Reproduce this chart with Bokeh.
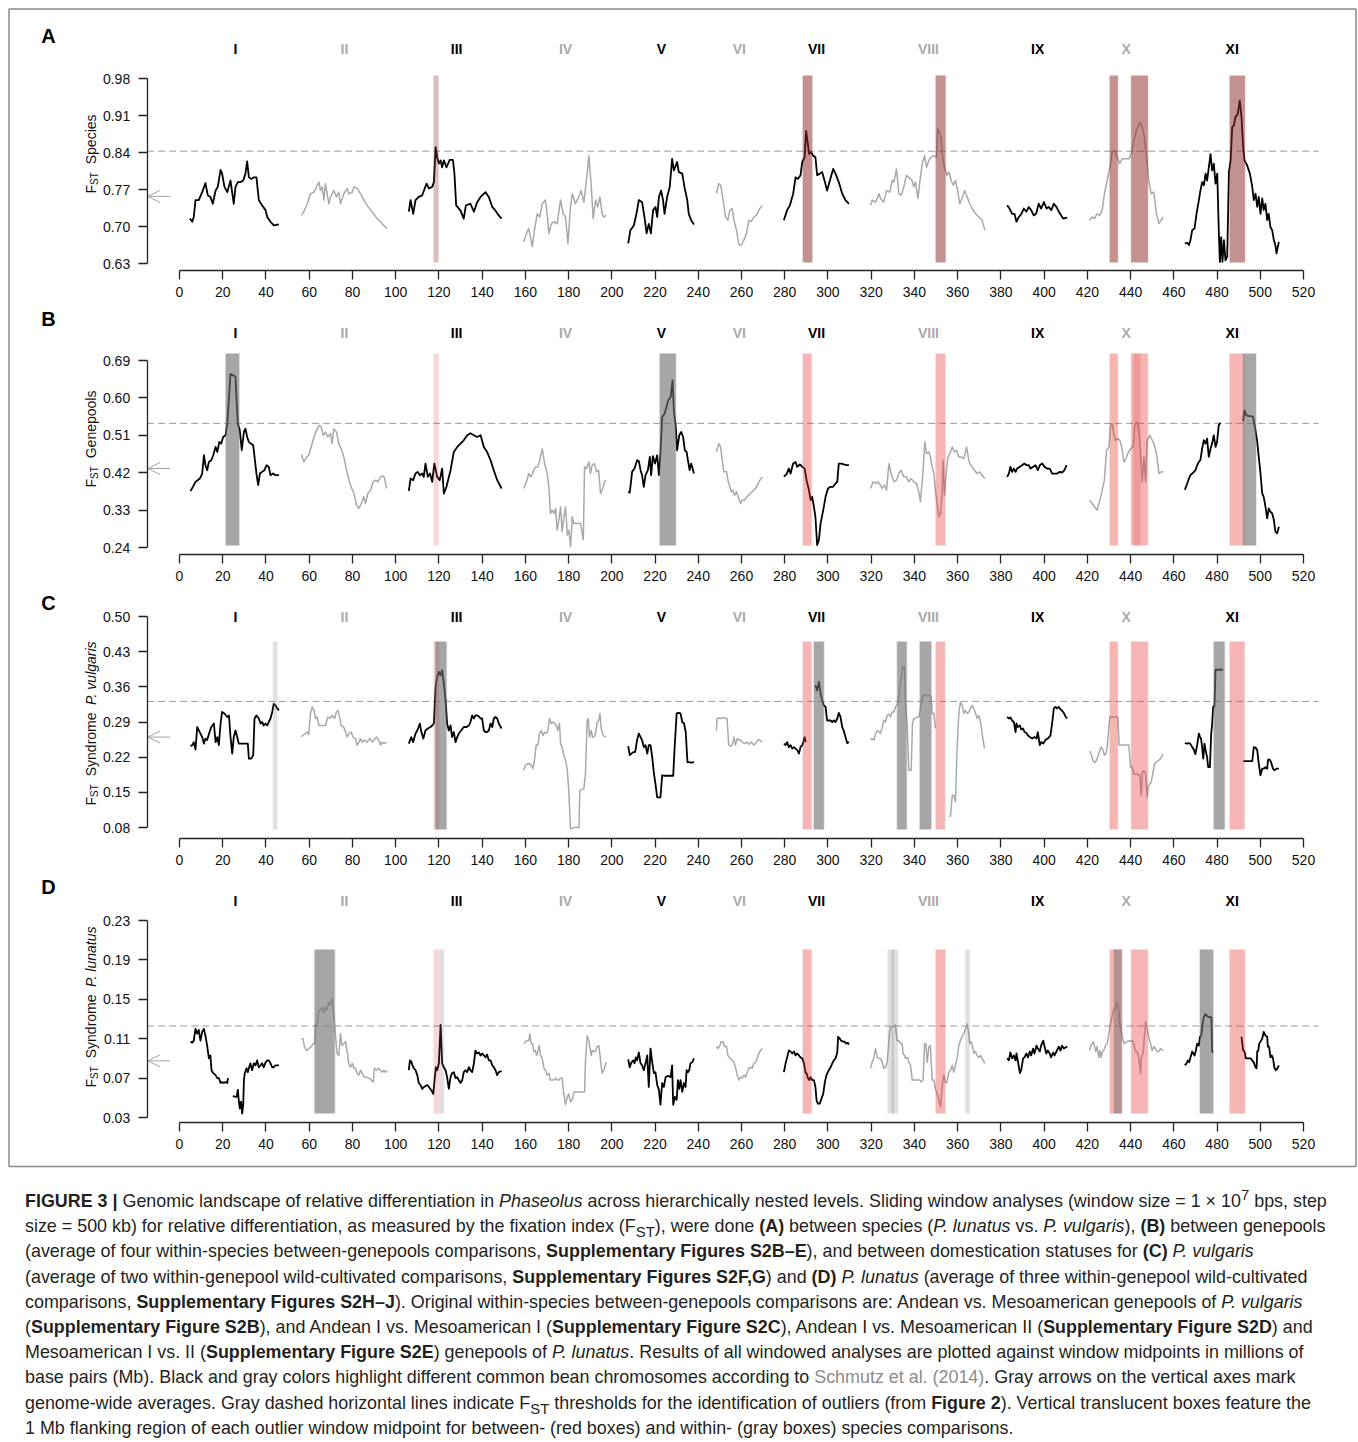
import math
from bokeh.plotting import figure
from bokeh.models import (Range1d, LinearAxis, FixedTicker, PrintfTickFormatter,
                          Arrow, OpenHead, Div)
from bokeh.layouts import column
from bokeh.core.properties import value
from bokeh.embed import file_html
from bokeh.resources import INLINE

NaN = float("nan")

# ---------------------------------------------------------------- data
CHROMS = ["I", "II", "III", "IV", "V", "VI", "VII", "VIII", "IX", "X", "XI"]
CHROM_MID = [25.9, 76.3, 128.2, 178.6, 223.0, 259.0, 294.7, 346.5, 397.0, 438.0, 487.0]
X_TICKS = list(range(0, 521, 20))

YTICKS_A = [0.63, 0.70, 0.77, 0.84, 0.91, 0.98]
YTICKS_B = [0.24, 0.33, 0.42, 0.51, 0.60, 0.69]
YTICKS_C = [0.08, 0.15, 0.22, 0.29, 0.36, 0.43, 0.50]
YTICKS_D = [0.03, 0.07, 0.11, 0.15, 0.19, 0.23]

THRESHOLD = {"A": 0.8425, "B": 0.5387, "C": 0.331, "D": 0.1229}
GENOME_MEAN = {"A": 0.757, "B": 0.430, "C": 0.260, "D": 0.0875}

# ---- Panel A: between species
A_I_mb = [4.8,5.9,6.6,7.4,8.9,10.5,12.0,13.1,14.3,15.4,16.7,17.7,19.0,19.7,20.8,22.1,23.6,25.1,25.9,27.0,28.2,29.5,30.5,31.3,32.1,33.2,34.4,35.6,36.7,38.2,39.8,40.6,42.1,43.6,46.0]
A_I_fst = [0.715,0.709,0.718,0.750,0.750,0.765,0.782,0.759,0.756,0.743,0.768,0.775,0.807,0.800,0.775,0.765,0.787,0.743,0.775,0.784,0.784,0.787,0.800,0.823,0.793,0.790,0.793,0.793,0.750,0.740,0.731,0.718,0.709,0.702,0.704]
A_II_mb = [56.4,57.5,59.1,60.6,62.2,63.4,64.5,65.2,66.0,66.8,67.5,68.3,69.1,69.9,71.4,72.6,73.7,74.5,76.0,77.6,78.3,79.9,80.7,82.2,83.7,85.3,86.8,88.4,89.9,91.4,93.0,94.5,96.1]
A_II_fst = [0.721,0.728,0.743,0.762,0.765,0.775,0.784,0.768,0.775,0.750,0.781,0.762,0.743,0.756,0.768,0.756,0.765,0.743,0.762,0.772,0.762,0.765,0.775,0.772,0.762,0.750,0.740,0.731,0.724,0.715,0.709,0.702,0.696]
A_III_mb = [106.1,106.9,108.1,109.2,110.7,112.3,113.1,114.3,115.4,116.9,117.7,118.5,119.2,120.0,120.8,121.5,122.3,123.5,125.0,126.5,127.2,128.0,130.0,131.5,132.5,134.6,136.2,137.7,139.3,141.6,143.1,144.7,146.2,147.7,149.0]
A_III_fst = [0.728,0.750,0.724,0.750,0.756,0.759,0.768,0.781,0.772,0.775,0.784,0.850,0.831,0.819,0.825,0.812,0.825,0.812,0.826,0.826,0.800,0.740,0.730,0.715,0.740,0.743,0.728,0.746,0.756,0.765,0.756,0.737,0.730,0.721,0.715]
A_IV_mb = [159.3,160.5,161.6,163.2,164.2,165.5,166.7,167.8,169.3,170.1,170.9,172.0,173.2,174.7,176.3,177.5,178.6,179.7,180.9,181.7,183.2,184.7,185.8,187.1,188.6,189.4,190.5,191.4,192.5,193.5,194.5,195.5,196.3,197.4]
A_IV_fst = [0.671,0.687,0.696,0.662,0.693,0.724,0.718,0.743,0.750,0.724,0.687,0.705,0.709,0.705,0.750,0.724,0.718,0.668,0.737,0.762,0.743,0.756,0.768,0.746,0.800,0.834,0.775,0.715,0.750,0.737,0.756,0.724,0.718,0.721]
A_V_mb = [207.6,208.6,210.2,211.4,212.5,214.0,215.1,216.1,217.1,218.1,219.1,220.2,221.0,221.8,222.8,223.7,224.4,225.6,226.8,227.9,228.7,230.2,231.0,232.6,233.6,234.9,235.6,236.7,238.0]
A_V_fst = [0.668,0.693,0.702,0.724,0.750,0.746,0.718,0.687,0.705,0.687,0.731,0.737,0.718,0.756,0.768,0.750,0.724,0.756,0.775,0.828,0.806,0.822,0.803,0.800,0.775,0.750,0.724,0.712,0.704]
A_VI_mb = [248.4,249.5,250.4,251.5,252.6,253.7,254.6,255.7,256.5,257.7,258.8,259.9,261.1,262.3,263.4,264.5,265.7,266.9,268.0,269.6]
A_VI_fst = [0.763,0.781,0.778,0.750,0.718,0.712,0.731,0.734,0.712,0.693,0.665,0.665,0.674,0.687,0.712,0.709,0.718,0.721,0.731,0.740]
A_VII_mb = [279.6,281.1,282.4,283.9,285.0,286.1,287.3,288.1,289.2,289.9,290.7,291.3,292.2,293.2,294.2,295.0,296.2,297.3,298.4,299.6,300.9,302.4,303.5,305.0,306.6,308.1,309.7]
A_VII_fst = [0.712,0.731,0.740,0.762,0.793,0.790,0.797,0.822,0.831,0.881,0.856,0.837,0.841,0.834,0.831,0.797,0.800,0.803,0.787,0.768,0.787,0.809,0.800,0.784,0.762,0.750,0.743]
A_VIII_mb = [319.7,320.5,322.0,323.6,324.3,325.8,327.1,328.6,329.7,330.5,331.7,332.8,333.9,335.1,336.3,337.4,338.9,339.7,340.5,341.6,342.5,343.6,344.7,345.6,346.7,347.7,349.0,350.2,350.8,352.1,353.1,353.9,355.1,356.0,357.0,358.0,359.0,360.1,361.0,362.0,363.2,364.4,365.6,366.7,368.3,369.8,371.3,372.6]
A_VIII_fst = [0.740,0.750,0.746,0.762,0.753,0.746,0.768,0.765,0.787,0.784,0.809,0.762,0.759,0.775,0.797,0.793,0.787,0.775,0.784,0.753,0.784,0.819,0.834,0.812,0.825,0.831,0.834,0.831,0.885,0.872,0.831,0.812,0.797,0.803,0.787,0.778,0.787,0.765,0.743,0.753,0.768,0.756,0.743,0.734,0.724,0.718,0.712,0.693]
A_IX_mb = [382.9,384.0,385.2,386.3,387.2,388.3,389.5,390.6,391.8,392.9,394.0,395.2,396.3,397.5,398.6,399.9,401.1,402.2,403.3,404.5,405.7,406.8,407.9,408.8,410.7]
A_IX_fst = [0.740,0.734,0.724,0.724,0.709,0.718,0.724,0.734,0.728,0.737,0.731,0.721,0.724,0.743,0.734,0.746,0.734,0.737,0.731,0.743,0.737,0.728,0.721,0.715,0.717]
A_X_mb = [421.0,422.2,423.3,424.5,425.7,426.9,427.9,429.2,430.4,431.5,432.6,433.8,435.0,436.1,437.6,439.2,440.3,441.5,443.0,444.3,445.4,446.4,447.4,448.4,449.5,450.7,452.0,453.1,454.2,455.1]
A_X_fst = [0.712,0.718,0.715,0.724,0.721,0.731,0.762,0.787,0.812,0.841,0.844,0.831,0.819,0.828,0.828,0.828,0.837,0.863,0.885,0.897,0.888,0.869,0.831,0.787,0.762,0.765,0.724,0.706,0.712,0.718]
A_XI_mb = [465.1,466.2,467.0,467.7,468.5,469.6,470.5,471.6,472.3,473.1,473.9,474.7,475.4,476.2,477.0,477.7,478.5,479.3,480.1,480.8,481.3,481.9,482.5,483.2,483.9,484.7,485.5,486.3,487.0,487.8,488.5,489.6,490.5,491.3,492.1,492.7,493.9,495.2,496.3,497.0,497.8,498.6,499.3,500.1,500.9,501.6,502.4,503.2,503.9,504.7,505.5,506.3,507.0,507.5,508.6]
A_XI_fst = [0.668,0.669,0.665,0.674,0.693,0.696,0.724,0.750,0.768,0.784,0.778,0.800,0.787,0.812,0.837,0.806,0.819,0.781,0.800,0.693,0.633,0.680,0.633,0.674,0.636,0.643,0.803,0.825,0.888,0.891,0.907,0.913,0.938,0.907,0.850,0.825,0.816,0.800,0.775,0.750,0.762,0.737,0.756,0.724,0.753,0.731,0.743,0.712,0.724,0.699,0.693,0.674,0.665,0.649,0.671]

# ---- Panel B: between genepools
B_I_mb = [5.1,6.2,7.4,8.4,9.4,10.5,11.3,12.0,12.8,13.6,14.7,15.6,16.7,17.5,18.4,19.3,20.2,21.3,22.1,22.8,23.6,24.4,25.1,25.9,26.4,27.0,27.9,28.8,29.8,30.5,31.3,32.1,32.9,34.1,34.9,35.6,36.4,37.2,38.2,39.3,40.3,41.3,42.1,43.3,44.4,46.0]
B_I_fst = [0.376,0.386,0.398,0.402,0.406,0.418,0.462,0.438,0.426,0.446,0.450,0.462,0.482,0.470,0.494,0.490,0.506,0.510,0.538,0.594,0.658,0.654,0.654,0.650,0.594,0.538,0.522,0.474,0.518,0.526,0.506,0.494,0.490,0.486,0.450,0.418,0.390,0.418,0.422,0.426,0.438,0.434,0.414,0.418,0.414,0.414]
B_II_mb = [56.4,57.5,58.8,59.8,60.9,62.2,63.4,64.5,65.5,66.5,67.5,68.6,69.9,70.6,71.4,72.6,73.7,74.8,76.0,77.3,78.4,79.4,80.7,81.9,83.0,84.1,85.3,86.1,87.1,88.4,89.6,90.7,91.8,93.0,94.0,94.7,95.8]
B_II_fst = [0.464,0.446,0.458,0.462,0.482,0.506,0.522,0.534,0.531,0.510,0.518,0.506,0.514,0.490,0.526,0.518,0.490,0.478,0.458,0.426,0.402,0.386,0.370,0.342,0.334,0.346,0.362,0.346,0.370,0.378,0.398,0.402,0.398,0.410,0.412,0.410,0.382]
B_III_mb = [106.1,106.9,108.1,109.2,110.2,111.2,112.3,113.0,113.8,114.9,115.9,116.9,117.9,119.2,120.4,121.5,122.3,123.5,125.4,126.9,128.5,130.0,131.5,133.1,134.6,136.2,137.7,139.3,140.8,142.3,143.9,145.4,147.0,149.0]
B_III_fst = [0.376,0.406,0.402,0.418,0.422,0.414,0.418,0.410,0.442,0.410,0.418,0.398,0.442,0.410,0.402,0.430,0.370,0.386,0.426,0.470,0.482,0.490,0.498,0.510,0.515,0.510,0.506,0.510,0.482,0.470,0.450,0.426,0.402,0.382]
B_IV_mb = [159.3,160.5,161.6,162.6,163.6,164.7,165.7,166.7,167.8,168.9,170.1,170.9,171.6,172.4,173.2,174.0,174.7,175.5,176.3,177.0,177.8,178.6,179.4,180.1,180.9,181.7,182.4,184.0,185.5,186.8,187.4,188.3,189.4,190.1,190.9,192.0,192.9,193.9,194.8,195.6,196.6,197.4]
B_IV_fst = [0.382,0.398,0.418,0.410,0.422,0.434,0.434,0.450,0.478,0.442,0.418,0.386,0.322,0.330,0.322,0.334,0.282,0.306,0.338,0.278,0.314,0.338,0.270,0.282,0.242,0.314,0.298,0.298,0.298,0.259,0.434,0.430,0.446,0.418,0.438,0.442,0.422,0.426,0.370,0.378,0.398,0.402]
B_V_mb = [207.6,208.3,209.4,210.5,211.7,212.5,213.3,214.0,214.8,215.6,216.7,217.6,218.2,219.0,220.0,221.0,221.8,222.5,223.3,224.4,225.3,226.1,227.2,228.1,228.7,229.6,230.2,231.2,232.1,233.0,233.8,234.6,235.2,236.0,236.7,237.2,238.0]
B_V_fst = [0.374,0.372,0.422,0.430,0.450,0.448,0.426,0.414,0.386,0.414,0.426,0.458,0.414,0.460,0.442,0.462,0.414,0.466,0.554,0.562,0.578,0.594,0.602,0.642,0.570,0.530,0.474,0.510,0.518,0.506,0.474,0.470,0.450,0.426,0.442,0.434,0.418]
B_VI_mb = [248.4,249.5,250.3,251.1,251.8,253.1,253.7,254.6,255.3,256.0,256.8,257.7,258.8,259.6,260.3,261.4,262.6,263.9,264.9,265.7,267.0,268.0,269.6]
B_VI_fst = [0.470,0.490,0.482,0.450,0.422,0.422,0.402,0.386,0.374,0.378,0.366,0.374,0.358,0.346,0.354,0.354,0.362,0.370,0.374,0.378,0.386,0.398,0.410]
B_VII_mb = [279.6,280.8,281.9,282.7,283.9,285.0,285.8,287.0,288.1,289.2,290.1,291.2,292.0,292.7,293.5,294.2,295.0,295.8,296.6,297.8,298.9,300.0,301.2,302.4,303.5,304.3,305.0,306.1,307.3,308.5,309.7]
B_VII_fst = [0.411,0.416,0.430,0.418,0.442,0.446,0.434,0.440,0.434,0.430,0.402,0.378,0.354,0.362,0.338,0.314,0.246,0.258,0.298,0.330,0.362,0.382,0.386,0.386,0.394,0.398,0.442,0.442,0.440,0.438,0.438]
B_VIII_mb = [319.7,320.9,322.0,323.0,324.3,325.1,326.2,327.1,328.2,329.2,330.5,331.7,332.8,333.9,335.1,336.3,337.4,338.5,339.7,341.0,342.0,342.8,344.0,344.8,345.6,346.7,347.4,348.2,349.0,349.7,350.5,351.3,352.1,352.8,353.3,353.9,354.7,355.5,356.4,357.5,358.5,359.5,360.5,361.6,362.9,364.1,364.9,365.6,366.7,367.8,369.0,370.3,371.3,372.6]
B_VIII_fst = [0.382,0.398,0.394,0.398,0.390,0.382,0.390,0.378,0.442,0.418,0.398,0.402,0.418,0.426,0.410,0.410,0.398,0.406,0.398,0.394,0.374,0.350,0.426,0.494,0.466,0.470,0.458,0.434,0.418,0.378,0.346,0.314,0.322,0.374,0.450,0.366,0.418,0.458,0.466,0.482,0.470,0.474,0.458,0.458,0.454,0.482,0.458,0.442,0.434,0.426,0.418,0.422,0.414,0.406]
B_IX_mb = [382.9,383.7,384.4,385.2,386.0,386.8,387.5,388.7,389.8,390.9,391.8,392.9,393.7,394.9,396.0,397.1,398.0,399.1,400.2,401.4,402.6,403.7,404.8,406.0,407.3,408.3,409.4,410.4]
B_IX_fst = [0.410,0.418,0.434,0.422,0.430,0.422,0.430,0.434,0.438,0.442,0.438,0.438,0.430,0.434,0.438,0.426,0.438,0.442,0.434,0.430,0.430,0.418,0.418,0.418,0.422,0.420,0.426,0.438]
B_X_mb = [421.0,422.2,423.3,424.5,425.8,426.9,427.9,428.9,430.0,430.7,431.5,432.2,433.0,434.1,435.0,435.9,436.9,437.6,438.7,440.0,441.2,441.8,442.7,443.4,444.3,445.4,446.2,446.9,447.7,448.9,450.0,450.8,452.0,453.1,454.2,455.1]
B_X_fst = [0.354,0.346,0.338,0.330,0.354,0.378,0.402,0.474,0.482,0.534,0.538,0.514,0.498,0.502,0.498,0.482,0.446,0.450,0.466,0.478,0.482,0.530,0.542,0.538,0.498,0.398,0.458,0.398,0.498,0.510,0.498,0.490,0.466,0.418,0.422,0.422]
B_XI_mb = [465.1,466.2,467.0,467.7,468.5,469.3,470.0,470.8,471.6,472.3,473.1,473.9,474.7,475.4,476.2,477.0,477.7,478.5,479.3,480.0,480.8,481.6,486.0,492.1,492.7,493.6,494.7,495.8,496.7,497.8,498.6,499.3,500.1,500.9,501.6,502.4,503.2,503.9,504.7,505.5,506.3,507.0,507.8,508.6]
B_XI_fst = [0.379,0.394,0.406,0.414,0.418,0.422,0.426,0.438,0.446,0.450,0.478,0.498,0.490,0.502,0.458,0.478,0.490,0.510,0.482,0.494,0.534,0.540,NaN,0.544,0.570,0.558,0.556,0.556,0.554,0.522,0.494,0.458,0.418,0.370,0.362,0.338,0.310,0.334,0.326,0.322,0.306,0.278,0.274,0.290]

# ---- Panel C: domestication syndrome, P. vulgaris
C_I_mb = [5.1,5.9,6.6,7.4,8.2,8.9,9.7,10.5,11.3,12.0,12.8,13.9,14.7,15.9,16.7,17.5,18.2,19.0,19.7,20.8,22.1,22.9,23.6,24.4,25.1,25.9,26.7,27.4,29.0,30.5,31.6,32.1,33.2,34.1,34.7,35.6,36.7,37.5,38.2,39.0,39.8,40.6,41.3,42.1,42.9,43.6,44.4,45.2,46.0]
C_I_fst = [0.242,0.244,0.250,0.235,0.280,0.274,0.267,0.260,0.247,0.257,0.254,0.270,0.280,0.287,0.250,0.260,0.244,0.287,0.310,0.307,0.300,0.303,0.260,0.227,0.260,0.273,0.260,0.247,0.247,0.247,0.247,0.217,0.217,0.224,0.297,0.303,0.297,0.287,0.290,0.283,0.287,0.283,0.290,0.297,0.310,0.326,0.323,0.317,0.313]
C_II_mb = [56.4,57.5,58.3,59.1,59.8,60.6,61.4,62.2,63.0,63.7,64.5,66.0,67.5,68.6,69.5,70.6,71.7,72.6,73.3,74.2,74.8,76.0,76.8,77.6,78.3,79.4,80.3,81.4,82.2,83.0,83.7,84.5,85.6,86.8,88.1,89.2,90.0,91.1,92.2,93.0,93.8,94.5,95.8]
C_II_fst = [0.261,0.265,0.267,0.270,0.265,0.307,0.320,0.313,0.297,0.300,0.283,0.283,0.283,0.300,0.297,0.303,0.297,0.310,0.313,0.297,0.283,0.280,0.270,0.260,0.267,0.270,0.260,0.257,0.244,0.250,0.257,0.250,0.254,0.250,0.257,0.250,0.254,0.260,0.254,0.244,0.250,0.247,0.250]
C_III_mb = [106.1,107.2,108.1,109.2,110.0,111.2,111.9,112.8,113.8,114.9,116.1,116.9,117.7,118.5,119.2,120.0,120.8,121.5,122.3,123.1,123.8,124.6,125.4,126.1,126.9,127.7,128.5,129.2,130.3,131.5,132.8,133.9,134.6,135.4,136.2,136.9,137.7,138.5,139.3,140.0,140.8,141.6,142.3,143.1,143.9,144.7,145.4,146.2,147.0,147.7,149.0]
C_III_fst = [0.247,0.260,0.250,0.267,0.273,0.287,0.270,0.257,0.273,0.277,0.280,0.283,0.287,0.360,0.379,0.390,0.383,0.393,0.366,0.333,0.287,0.273,0.283,0.260,0.270,0.250,0.260,0.267,0.273,0.280,0.280,0.283,0.290,0.303,0.297,0.303,0.303,0.301,0.297,0.297,0.273,0.270,0.270,0.273,0.287,0.280,0.297,0.300,0.297,0.287,0.277]
C_IV_mb = [159.3,160.1,161.2,162.4,163.6,164.4,165.0,165.8,166.5,167.3,168.1,168.9,169.8,170.4,171.2,172.0,172.7,173.5,174.3,175.0,175.8,176.3,177.0,177.8,178.6,179.4,180.1,180.9,181.7,182.4,183.2,184.8,185.2,186.3,187.1,187.8,188.6,189.1,189.7,190.5,191.1,191.7,192.5,193.2,194.0,194.5,195.1,196.0,197.4]
C_IV_fst = [0.194,0.204,0.207,0.206,0.197,0.220,0.244,0.244,0.267,0.273,0.263,0.270,0.267,0.273,0.297,0.287,0.290,0.287,0.283,0.273,0.287,0.247,0.240,0.224,0.214,0.194,0.154,0.078,0.078,0.080,0.080,0.080,0.154,0.156,0.157,0.187,0.293,0.297,0.260,0.273,0.260,0.260,0.267,0.290,0.293,0.307,0.277,0.263,0.260]
C_V_mb = [207.6,208.3,209.1,209.9,210.8,211.7,212.5,213.3,214.0,214.8,215.6,216.4,217.1,217.9,218.7,219.5,220.2,221.0,221.8,222.5,223.3,224.1,225.6,227.2,228.4,229.0,230.0,231.0,231.8,232.6,233.4,234.2,235.0,235.6,236.7,238.0]
C_V_fst = [0.242,0.224,0.227,0.230,0.230,0.254,0.267,0.260,0.254,0.240,0.244,0.227,0.244,0.244,0.220,0.187,0.167,0.140,0.140,0.140,0.184,0.183,0.183,0.183,0.183,0.234,0.307,0.308,0.307,0.290,0.287,0.270,0.210,0.210,0.209,0.210]
C_VI_mb = [248.4,248.7,249.5,250.3,251.5,252.6,253.3,254.1,254.9,255.7,256.5,257.2,258.0,258.8,259.5,260.3,261.4,262.3,263.4,264.5,265.7,266.5,267.2,268.0,269.6]
C_VI_fst = [0.273,0.297,0.298,0.297,0.299,0.297,0.297,0.244,0.242,0.244,0.260,0.244,0.257,0.254,0.254,0.250,0.247,0.250,0.246,0.250,0.244,0.247,0.252,0.255,0.250]
C_VII_mb = [279.6,280.4,281.1,281.9,282.7,283.5,284.3,285.0,285.8,286.6,287.3,288.1,288.6,289.2,289.7,292.0,294.2,295.0,295.8,296.6,297.3,298.1,298.9,299.6,300.4,301.2,302.0,302.7,303.5,304.3,305.0,305.8,306.6,307.3,308.1,308.9,309.7]
C_VII_fst = [0.247,0.244,0.250,0.240,0.244,0.237,0.240,0.237,0.234,0.227,0.240,0.244,0.250,0.260,0.250,NaN,0.363,0.353,0.370,0.346,0.333,0.323,0.320,0.293,0.293,0.293,0.290,0.293,0.290,0.297,0.308,0.300,0.280,0.273,0.260,0.248,0.250]
C_VIII_mb = [319.7,320.4,321.3,322.0,322.8,323.6,324.3,325.1,325.8,326.6,327.4,328.2,328.9,329.7,330.5,331.2,332.3,333.1,333.9,334.6,335.4,335.9,336.6,337.4,338.5,339.1,339.7,340.5,341.3,342.0,342.5,343.1,344.0,345.1,346.7,347.7,348.2,349.0,349.7,352.0,355.9,356.7,357.5,358.2,359.0,359.5,360.1,360.7,361.3,362.1,362.9,363.6,364.4,365.2,366.0,366.7,367.5,368.3,369.0,369.8,370.6,371.3,372.4]
C_VIII_fst = [0.254,0.257,0.254,0.267,0.273,0.270,0.267,0.280,0.293,0.290,0.303,0.306,0.300,0.310,0.310,0.320,0.326,0.353,0.379,0.400,0.400,0.323,0.287,0.194,0.194,0.287,0.297,0.297,0.300,0.300,0.310,0.326,0.343,0.343,0.343,0.341,0.307,0.307,0.277,NaN,0.103,0.103,0.144,0.144,0.131,0.207,0.273,0.313,0.330,0.323,0.307,0.313,0.307,0.310,0.317,0.323,0.317,0.307,0.297,0.303,0.290,0.267,0.237]
C_IX_mb = [382.9,383.7,384.4,385.2,386.0,386.8,387.2,387.8,388.8,389.4,390.3,390.9,391.8,392.5,393.4,394.5,395.5,396.5,397.1,398.0,398.6,399.6,400.6,401.7,402.9,403.7,404.5,405.3,406.0,406.8,407.6,408.4,409.1,409.9,410.7]
C_IX_fst = [0.300,0.297,0.299,0.293,0.290,0.270,0.287,0.280,0.283,0.275,0.277,0.270,0.268,0.263,0.260,0.257,0.260,0.257,0.270,0.244,0.250,0.247,0.254,0.257,0.263,0.287,0.317,0.320,0.317,0.320,0.315,0.312,0.308,0.301,0.297]
C_X_mb = [421.0,421.7,422.5,423.3,424.2,425.0,425.8,426.4,427.2,427.9,428.6,429.2,429.8,430.4,431.5,433.0,434.1,434.7,435.6,436.9,438.4,439.2,440.0,440.7,441.5,443.0,444.3,444.9,445.5,446.1,446.9,447.7,448.1,448.9,449.5,450.4,451.1,452.0,453.1,453.8,455.1]
C_X_fst = [0.232,0.227,0.214,0.209,0.213,0.224,0.234,0.240,0.234,0.224,0.227,0.240,0.273,0.300,0.300,0.300,0.300,0.244,0.244,0.244,0.244,0.244,0.200,0.200,0.187,0.186,0.184,0.144,0.190,0.193,0.190,0.141,0.161,0.167,0.170,0.190,0.207,0.210,0.214,0.217,0.226]
C_XI_mb = [465.1,466.0,467.0,467.7,468.5,469.3,470.0,470.8,471.6,472.1,472.6,473.1,473.6,474.2,474.7,475.4,475.9,476.7,477.3,477.7,478.2,478.8,479.3,480.0,481.6,482.7,487.0,492.1,493.2,494.7,496.3,497.0,497.8,498.6,499.3,500.1,500.9,501.6,502.4,503.2,503.6,504.4,505.0,505.9,506.5,507.5,508.6]
C_XI_fst = [0.248,0.247,0.248,0.246,0.240,0.235,0.226,0.244,0.267,0.261,0.257,0.240,0.217,0.247,0.234,0.220,0.200,0.200,0.267,0.283,0.320,0.321,0.394,0.394,0.394,0.394,NaN,0.212,0.212,0.212,0.212,0.240,0.239,0.234,0.207,0.184,0.197,0.197,0.200,0.197,0.215,0.215,0.210,0.197,0.194,0.197,0.197]

# ---- Panel D: domestication syndrome, P. lunatus
D_I_mb = [5.1,5.9,6.6,7.4,8.2,8.9,9.7,10.5,11.3,12.0,12.8,13.6,14.3,14.8,15.6,16.7,17.5,18.2,19.0,19.7,20.5,21.3,22.1,22.4,23.5,24.7,25.6,26.4,27.0,27.4,27.9,28.5,29.0,29.5,29.8,30.2,31.0,31.6,32.2,32.8,33.6,34.4,35.2,35.9,36.7,37.5,38.2,39.0,39.8,40.6,41.3,42.1,42.9,43.6,44.4,46.0]
D_I_fst = [0.107,0.106,0.108,0.120,0.115,0.119,0.108,0.117,0.120,0.113,0.103,0.090,0.093,0.078,0.075,0.073,0.070,0.070,0.065,0.066,0.065,0.066,0.065,0.070,NaN,0.052,0.051,0.051,0.058,0.048,0.039,0.046,0.034,0.044,0.068,0.075,0.080,0.076,0.081,0.085,0.078,0.085,0.083,0.088,0.081,0.083,0.085,0.081,0.086,0.088,0.088,0.085,0.081,0.081,0.083,0.083]
D_II_mb = [56.4,57.1,57.8,58.8,59.8,60.9,61.8,62.5,62.9,63.7,64.5,65.2,66.0,66.8,67.5,68.3,69.1,69.9,70.6,71.4,72.2,72.9,73.7,74.5,75.2,76.0,76.8,77.6,78.3,79.1,79.9,80.7,81.4,82.2,83.0,83.7,84.5,85.3,86.5,87.6,88.7,89.6,90.2,91.1,92.2,93.0,93.8,94.5,95.3,96.1]
D_II_fst = [0.110,0.110,0.102,0.098,0.100,0.102,0.105,0.105,0.124,0.125,0.139,0.139,0.142,0.137,0.142,0.140,0.147,0.144,0.151,0.135,0.112,0.095,0.093,0.115,0.103,0.105,0.107,0.097,0.085,0.081,0.085,0.080,0.080,0.075,0.073,0.078,0.075,0.071,0.071,0.070,0.068,0.066,0.080,0.078,0.080,0.078,0.076,0.078,0.076,0.078]
D_III_mb = [106.1,106.6,107.2,108.1,109.2,110.0,110.7,111.5,112.3,113.1,114.6,115.4,116.4,117.4,118.0,118.6,119.2,120.0,120.8,121.5,122.3,123.1,123.8,124.6,125.4,126.1,126.9,127.7,128.5,129.2,130.0,130.8,131.5,132.3,133.1,133.9,134.6,135.4,136.2,136.9,137.7,138.5,139.3,140.0,140.8,141.6,142.3,143.1,143.9,144.7,145.4,146.2,147.0,147.7,149.0]
D_III_fst = [0.078,0.088,0.087,0.081,0.078,0.073,0.065,0.063,0.059,0.061,0.063,0.061,0.058,0.054,0.068,0.081,0.078,0.085,0.124,0.085,0.081,0.078,0.071,0.059,0.071,0.075,0.076,0.070,0.071,0.068,0.065,0.068,0.076,0.078,0.076,0.081,0.078,0.076,0.085,0.098,0.095,0.096,0.093,0.095,0.093,0.091,0.094,0.088,0.088,0.083,0.081,0.078,0.073,0.076,0.077]
D_IV_mb = [159.3,160.1,160.8,161.6,162.1,162.7,163.3,164.0,164.6,165.2,165.8,166.4,167.0,167.8,168.6,169.3,170.1,170.9,171.6,172.4,173.2,174.0,174.7,175.5,176.3,177.0,177.8,178.6,179.4,180.1,180.9,181.7,182.4,184.0,185.5,187.4,187.8,188.6,189.4,189.8,190.5,190.9,191.7,192.5,193.2,194.0,194.8,195.5,196.3,197.4]
D_IV_fst = [0.105,0.107,0.108,0.108,0.115,0.105,0.105,0.097,0.098,0.093,0.097,0.103,0.093,0.090,0.080,0.078,0.073,0.075,0.068,0.068,0.068,0.070,0.068,0.068,0.070,0.070,0.054,0.043,0.051,0.054,0.046,0.048,0.056,0.056,0.056,0.056,0.086,0.113,0.108,0.102,0.093,0.098,0.097,0.097,0.102,0.103,0.088,0.075,0.078,0.086]
D_V_mb = [207.6,208.3,209.1,209.9,210.5,211.1,211.7,212.5,213.3,214.0,214.8,215.6,216.4,217.1,217.9,218.7,219.5,220.2,221.0,221.8,222.5,223.3,224.1,224.9,225.6,226.4,227.2,227.9,228.4,229.2,230.0,230.6,231.2,231.8,232.6,233.4,234.1,234.6,235.2,235.8,236.4,237.2,238.0]
D_V_fst = [0.089,0.081,0.086,0.088,0.085,0.091,0.088,0.096,0.085,0.083,0.078,0.085,0.093,0.061,0.100,0.086,0.075,0.076,0.063,0.058,0.043,0.065,0.061,0.071,0.072,0.072,0.071,0.083,0.043,0.051,0.048,0.068,0.059,0.068,0.056,0.065,0.061,0.078,0.076,0.078,0.085,0.086,0.090]
D_VI_mb = [248.4,249.1,250.0,250.6,251.5,252.1,253.1,253.7,254.3,254.9,255.7,256.5,257.2,258.0,258.8,259.5,260.3,261.1,261.9,262.6,263.4,264.2,265.0,265.7,266.5,267.3,268.0,268.8,269.6]
D_VI_fst = [0.102,0.100,0.103,0.107,0.107,0.102,0.102,0.093,0.091,0.090,0.088,0.086,0.081,0.073,0.068,0.071,0.070,0.073,0.071,0.076,0.080,0.081,0.080,0.085,0.086,0.090,0.095,0.098,0.100]
D_VII_mb = [279.6,280.4,281.1,281.9,282.7,283.5,284.3,285.0,285.8,286.6,287.3,288.1,288.9,289.7,290.1,290.7,291.3,291.9,292.7,293.5,294.2,294.7,295.3,296.2,296.8,297.8,298.5,299.3,300.4,301.2,302.0,302.7,303.5,304.3,304.7,305.5,306.1,307.0,307.6,308.5,309.2,309.7]
D_VII_fst = [0.076,0.085,0.091,0.098,0.097,0.095,0.097,0.093,0.095,0.093,0.091,0.090,0.085,0.075,0.075,0.070,0.068,0.071,0.068,0.068,0.061,0.048,0.044,0.044,0.048,0.054,0.065,0.073,0.078,0.081,0.085,0.088,0.090,0.096,0.112,0.110,0.108,0.107,0.107,0.105,0.106,0.104]
D_VIII_mb = [319.7,320.4,321.2,322.0,322.8,323.6,324.3,325.1,325.8,326.6,327.4,328.2,328.6,329.2,330.2,331.2,332.0,332.8,333.6,334.3,334.8,335.4,335.9,336.3,336.9,337.4,338.2,339.0,339.7,341.3,342.5,343.1,344.0,344.7,345.3,345.9,346.7,347.4,348.2,349.0,349.7,350.5,351.3,352.1,352.8,353.6,354.4,355.1,355.9,356.7,357.5,358.2,359.0,359.8,360.5,361.3,362.1,362.9,363.6,364.4,365.2,365.6,366.2,366.9,367.5,368.3,369.0,369.8,370.6,371.3,372.6]
D_VIII_fst = [0.080,0.086,0.090,0.100,0.091,0.090,0.090,0.086,0.080,0.081,0.086,0.108,0.118,0.122,0.122,0.124,0.108,0.108,0.105,0.105,0.095,0.093,0.090,0.091,0.091,0.086,0.083,0.068,0.068,0.068,0.068,0.066,0.068,0.105,0.105,0.086,0.102,0.103,0.068,0.068,0.059,0.054,0.048,0.041,0.061,0.073,0.065,0.066,0.076,0.078,0.083,0.076,0.083,0.091,0.103,0.108,0.113,0.115,0.120,0.125,0.115,0.105,0.107,0.102,0.095,0.097,0.093,0.091,0.093,0.090,0.085]
D_IX_mb = [382.9,383.7,384.4,385.2,386.0,386.8,387.2,387.8,388.8,389.4,390.3,390.9,391.8,392.5,393.4,394.0,394.9,395.5,396.5,397.1,398.0,398.6,399.6,400.2,401.0,401.7,402.6,403.2,404.2,404.8,405.7,406.8,407.6,408.3,409.1,409.9,410.7]
D_IX_fst = [0.090,0.088,0.096,0.090,0.093,0.088,0.095,0.088,0.075,0.078,0.090,0.091,0.095,0.091,0.097,0.093,0.100,0.095,0.103,0.100,0.097,0.103,0.108,0.102,0.095,0.098,0.095,0.091,0.096,0.093,0.097,0.102,0.098,0.103,0.100,0.101,0.102]
D_X_mb = [421.0,421.7,422.7,423.3,423.9,424.5,425.3,425.8,426.4,427.0,427.6,428.4,429.2,430.7,432.2,433.0,433.8,434.6,435.0,435.6,436.6,437.2,438.1,439.2,440.0,440.7,441.5,442.3,443.0,443.8,444.6,445.0,445.8,446.9,447.7,448.4,449.2,450.0,450.8,451.5,452.3,453.1,453.8,455.1]
D_X_fst = [0.098,0.103,0.107,0.103,0.097,0.102,0.091,0.098,0.091,0.097,0.098,0.103,0.105,0.125,0.140,0.140,0.147,0.139,0.125,0.118,0.108,0.105,0.107,0.108,0.107,0.108,0.105,0.097,0.097,0.091,0.075,0.091,0.095,0.127,0.120,0.112,0.105,0.098,0.102,0.100,0.097,0.097,0.100,0.098]
D_XI_mb = [465.1,465.9,466.5,467.1,467.7,468.5,469.0,469.6,470.2,470.8,471.6,472.1,472.7,473.3,473.9,474.7,475.4,476.2,477.0,477.4,477.7,478.2,485.0,491.3,492.1,492.7,493.3,493.9,494.7,495.5,496.3,497.0,497.8,498.3,498.6,499.1,499.5,500.1,500.9,501.6,502.4,503.2,503.5,504.1,504.7,505.3,505.9,506.5,507.1,507.7,508.6]
D_XI_fst = [0.083,0.085,0.088,0.086,0.091,0.097,0.095,0.093,0.098,0.105,0.103,0.112,0.113,0.125,0.132,0.135,0.133,0.132,0.132,0.132,0.097,0.096,NaN,0.112,0.098,0.097,0.090,0.090,0.090,0.090,0.088,0.086,0.081,0.080,0.097,0.098,0.105,0.107,0.110,0.117,0.113,0.112,0.102,0.102,0.091,0.093,0.090,0.081,0.078,0.079,0.083]

# ---- outlier boxes (Mb extent, comparison type, number of outlier windows)
A_BOX_START = [117.6, 288.4, 349.9, 430.4, 440.3, 485.9]
A_BOX_END = [119.8, 292.7, 354.4, 434.1, 448.0, 492.9]
A_BOX_TYPE = ["between", "between", "between", "between", "between", "between"]
A_BOX_WINDOWS = [1, 2, 2, 2, 2, 2]

B_BOX_START = [21.4, 117.6, 222.2, 288.4, 349.9, 430.4, 440.3, 441.5, 485.9, 492.1]
B_BOX_END = [27.6, 119.8, 229.6, 292.4, 354.3, 434.1, 448.0, 444.6, 492.4, 498.0]
B_BOX_TYPE = ["within", "between", "within", "between", "between", "between", "between", "between", "between", "within"]
B_BOX_WINDOWS = [4, 1, 4, 2, 2, 2, 2, 1, 2, 4]

C_BOX_START = [43.3, 117.6, 118.4, 288.4, 293.5, 332.0, 342.5, 349.9, 430.4, 440.3, 478.5, 485.9]
C_BOX_END = [45.2, 120.0, 123.5, 292.4, 298.1, 336.4, 347.8, 354.1, 434.1, 448.0, 483.5, 492.7]
C_BOX_TYPE = ["within", "between", "within", "between", "within", "within", "within", "between", "between", "between", "within", "between"]
C_BOX_WINDOWS = [1, 1, 4, 2, 4, 4, 4, 2, 2, 2, 4, 2]

D_BOX_START = [62.5, 117.6, 120.1, 288.4, 327.7, 329.5, 349.9, 363.6, 430.4, 432.3, 440.3, 472.1, 485.9]
D_BOX_END = [71.8, 119.8, 122.3, 292.4, 332.3, 330.5, 354.3, 365.5, 435.9, 435.9, 448.0, 478.2, 492.9]
D_BOX_TYPE = ["within", "between", "within", "between", "within", "within", "between", "within", "between", "within", "between", "within", "between"]
D_BOX_WINDOWS = [4, 1, 1, 2, 1, 1, 2, 1, 2, 3, 2, 4, 2]

# ---------------------------------------------------------------- layout
W, H = 1358, 1170
LEFT, TOP = 0, 0                     # page position of the canvas
PX0, PX520 = 179.0, 1303.0           # page x of 0 Mb and 520 Mb
PX_PER_MB = (PX520 - PX0) / 520.0


def mb(px):
    return (px - PX0) / PX_PER_MB


def cy(py):                          # page y -> default (pixel) y range
    return (TOP + H) - py


PANELS = [
    dict(name="A", yt=YTICKS_A, ytop=78, ybot=263, axis=270, box=(75, 262), chrom=48, letter=35, lab=193,
         label=[("F", 14, "normal", 0, 0), ("ST", 10, "normal", 2.8, 4), ("Species", 14, "normal", 0, 0)],
         series=[(A_I_mb, A_I_fst), (A_II_mb, A_II_fst), (A_III_mb, A_III_fst), (A_IV_mb, A_IV_fst),
                 (A_V_mb, A_V_fst), (A_VI_mb, A_VI_fst), (A_VII_mb, A_VII_fst), (A_VIII_mb, A_VIII_fst),
                 (A_IX_mb, A_IX_fst), (A_X_mb, A_X_fst), (A_XI_mb, A_XI_fst)],
         boxes=(A_BOX_START, A_BOX_END, A_BOX_TYPE, A_BOX_WINDOWS)),
    dict(name="B", yt=YTICKS_B, ytop=360, ybot=547, axis=554, box=(353, 545), chrom=332, letter=318, lab=487,
         label=[("F", 14, "normal", 0, 0), ("ST", 10, "normal", 2.8, 4), ("Genepools", 14, "normal", 0, 0)],
         series=[(B_I_mb, B_I_fst), (B_II_mb, B_II_fst), (B_III_mb, B_III_fst), (B_IV_mb, B_IV_fst),
                 (B_V_mb, B_V_fst), (B_VI_mb, B_VI_fst), (B_VII_mb, B_VII_fst), (B_VIII_mb, B_VIII_fst),
                 (B_IX_mb, B_IX_fst), (B_X_mb, B_X_fst), (B_XI_mb, B_XI_fst)],
         boxes=(B_BOX_START, B_BOX_END, B_BOX_TYPE, B_BOX_WINDOWS)),
    dict(name="C", yt=YTICKS_C, ytop=616, ybot=827, axis=838, box=(641, 829), chrom=616, letter=602, lab=805,
         label=[("F", 14, "normal", 0, 0), ("ST", 10, "normal", 2.8, 4), ("Syndrome", 14, "normal", 0, 7.5),
                ("P. vulgaris", 14, "italic", 0, 0)],
         series=[(C_I_mb, C_I_fst), (C_II_mb, C_II_fst), (C_III_mb, C_III_fst), (C_IV_mb, C_IV_fst),
                 (C_V_mb, C_V_fst), (C_VI_mb, C_VI_fst), (C_VII_mb, C_VII_fst), (C_VIII_mb, C_VIII_fst),
                 (C_IX_mb, C_IX_fst), (C_X_mb, C_X_fst), (C_XI_mb, C_XI_fst)],
         boxes=(C_BOX_START, C_BOX_END, C_BOX_TYPE, C_BOX_WINDOWS)),
    dict(name="D", yt=YTICKS_D, ytop=920, ybot=1117, axis=1122, box=(949, 1113), chrom=900, letter=886, lab=1087,
         label=[("F", 14, "normal", 0, 0), ("ST", 10, "normal", 2.8, 4), ("Syndrome", 14, "normal", 0, 7.5),
                ("P. lunatus", 14, "italic", 0, 0)],
         series=[(D_I_mb, D_I_fst), (D_II_mb, D_II_fst), (D_III_mb, D_III_fst), (D_IV_mb, D_IV_fst),
                 (D_V_mb, D_V_fst), (D_VI_mb, D_VI_fst), (D_VII_mb, D_VII_fst), (D_VIII_mb, D_VIII_fst),
                 (D_IX_mb, D_IX_fst), (D_X_mb, D_X_fst), (D_XI_mb, D_XI_fst)],
         boxes=(D_BOX_START, D_BOX_END, D_BOX_TYPE, D_BOX_WINDOWS)),
]

FONT = "Liberation Sans"
BLACK, GRAY = "#000000", "#a9a9a9"
CHAR_W = {'F': 611, 'S': 667, 'T': 611, 'p': 556, 'e': 556, 'c': 500, 'i': 222, 's': 500, 'G': 778,
          'n': 556, 'o': 556, 'l': 222, 'y': 500, 'd': 556, 'r': 333, 'm': 833, 'P': 667, '.': 278,
          'v': 500, 'u': 556, 'g': 556, 'a': 556, 't': 278, ' ': 278}


def text_w(t, size):
    return sum(CHAR_W.get(ch, 556) for ch in t) * size / 1000.0


p = figure(width=W, height=H, x_range=Range1d(mb(LEFT), mb(LEFT + W)), y_range=Range1d(0, H),
           x_axis_location=None, y_axis_location=None, toolbar_location=None,
           output_backend="svg", title=None, min_border=0)
p.grid.grid_line_color = None
p.outline_line_color = None
p.background_fill_color = "white"
p.border_fill_color = "white"

# figure frame box
p.quad(left=[mb(8.5)], right=[mb(1355.5)], top=[cy(8.5)], bottom=[cy(1166)],
       fill_color=None, line_color="#8a8a8a", line_width=1.5)

BOX_STYLE = {"A": {"between": ("#8c2828", 0.30), "within": ("#6e6e6e", 0.21)},
             "other": {"between": ("#e63232", 0.20), "within": ("#6e6e6e", 0.21)}}

for pan in PANELS:
    name = pan["name"]
    ymin, ymax = pan["yt"][0], pan["yt"][-1]
    s = (pan["ybot"] - pan["ytop"]) / (ymax - ymin)

    def v(py, pan=pan, s=s, ymax=ymax):
        return ymax - (py - pan["ytop"]) / s

    p.extra_y_ranges[name] = Range1d(start=v(TOP + H), end=v(TOP))

    # threshold line
    p.segment(x0=[mb(146.7)], x1=[mb(1318)], y0=[THRESHOLD[name]], y1=[THRESHOLD[name]],
              y_range_name=name, line_color="#9a9a9a", line_width=1, line_dash="7 4")

    # chromosome series
    for i, (xs, ys) in enumerate(pan["series"]):
        n = min(len(xs), len(ys))
        col = BLACK if i % 2 == 0 else GRAY
        p.line(x=xs[:n], y=ys[:n], y_range_name=name, line_color=col,
               line_width=1.8 if i % 2 == 0 else 1.5, line_join="round")

    # translucent outlier boxes (drawn over the lines)
    style = BOX_STYLE["A" if name == "A" else "other"]
    b_lo, b_hi = v(pan["box"][1]), v(pan["box"][0])
    starts, ends, types, wins = pan["boxes"]
    for x0, x1, t, k in zip(starts, ends, types, wins):
        colr, a = style[t]
        alpha = 1 - (1 - a) ** k
        p.quad(left=[x0], right=[x1], bottom=[b_lo], top=[b_hi], y_range_name=name,
               fill_color=colr, fill_alpha=alpha, line_color=None)
        # soft edges
        p.quad(left=[x0 - 0.35, x1], right=[x0, x1 + 0.35], bottom=[b_lo] * 2, top=[b_hi] * 2,
               y_range_name=name, fill_color=colr, fill_alpha=alpha * 0.35, line_color=None)

    # genome-wide average arrow
    p.add_layout(Arrow(end=OpenHead(size=12, line_color="#a0a0a0", line_width=1),
                       x_start=mb(169.5), x_end=mb(147.5),
                       y_start=GENOME_MEAN[name], y_end=GENOME_MEAN[name], y_range_name=name,
                       line_color="#a0a0a0", line_width=1))

    # axes
    xa = LinearAxis(y_range_name=name, fixed_location=v(pan["axis"]), bounds=(0, 520),
                    ticker=FixedTicker(ticks=X_TICKS))
    ya = LinearAxis(y_range_name=name, fixed_location=mb(146.7), bounds=(ymin, ymax),
                    ticker=FixedTicker(ticks=pan["yt"]), formatter=PrintfTickFormatter(format="%.2f"))
    for ax in (xa, ya):
        ax.axis_line_color = "#222222"
        ax.axis_line_width = 1.3
        ax.major_tick_line_color = "#222222"
        ax.major_tick_line_width = 1.3
        ax.major_tick_out = 9
        ax.major_tick_in = 0
        ax.minor_tick_line_color = None
        ax.major_label_text_font = FONT
        ax.major_label_text_font_size = "14px"
        ax.major_label_text_color = "#111111"
    xa.major_label_standoff = 7
    ya.major_label_standoff = 8
    p.add_layout(xa, "below")
    p.add_layout(ya, "left")

    # chromosome names
    p.text(x=CHROM_MID, y=[cy(pan["chrom"])] * len(CHROMS), text=CHROMS,
           text_color=[BLACK if i % 2 == 0 else GRAY for i in range(len(CHROMS))],
           text_font=value(FONT), text_font_size="14px", text_font_style="bold",
           text_align="center", text_baseline="middle")

    # panel letter
    p.text(x=[mb(48)], y=[cy(pan["letter"])], text=[name], text_font=value(FONT),
           text_font_size="20px", text_font_style="bold", text_align="center",
           text_baseline="middle", text_color="#000000")

    # rotated y label  F_ST ...
    pos = 0.0
    for txt, size, fstyle, dx, gap in pan["label"]:
        p.text(x=[mb(90.7)], y=[cy(pan["lab"]) + pos], text=[txt], angle=math.pi / 2,
               x_offset=dx, text_font=value(FONT), text_font_size=f"{size}px",
               text_font_style=fstyle, text_align="left", text_baseline="alphabetic",
               text_color="#111111")
        pos += text_w(txt, size) + gap + (3.9 if txt == "ST" else 0)

CAPTION = (
    '<div style="font-family:\'Liberation Sans\',Arial,sans-serif;font-size:17.9px;line-height:25.2px;'
    'color:#231f20;white-space:nowrap;padding:14px 0 0 20px;">'
    '<b>FIGURE 3 |</b> Genomic landscape of relative differentiation in <i>Phaseolus</i> across hierarchically '
    'nested levels. Sliding window analyses (window size = 1 &times; 10<sup style="line-height:0">7</sup> bps, step<br>'
    'size = 500 kb) for relative differentiation, as measured by the fixation index (F<sub style="line-height:0">ST</sub>), '
    'were done <b>(A)</b> between species (<i>P. lunatus</i> vs. <i>P. vulgaris</i>), <b>(B)</b> between genepools<br>'
    '(average of four within-species between-genepools comparisons, <b>Supplementary Figures S2B&ndash;E</b>), '
    'and between domestication statuses for <b>(C)</b> <i>P. vulgaris</i><br>'
    '(average of two within-genepool wild-cultivated comparisons, <b>Supplementary Figures S2F,G</b>) and '
    '<b>(D)</b> <i>P. lunatus</i> (average of three within-genepool wild-cultivated<br>'
    'comparisons, <b>Supplementary Figures S2H&ndash;J</b>). Original within-species between-genepools comparisons '
    'are: Andean vs. Mesoamerican genepools of <i>P. vulgaris</i><br>'
    '(<b>Supplementary Figure S2B</b>), and Andean I vs. Mesoamerican I (<b>Supplementary Figure S2C</b>), '
    'Andean I vs. Mesoamerican II (<b>Supplementary Figure S2D</b>) and<br>'
    'Mesoamerican I vs. II (<b>Supplementary Figure S2E</b>) genepools of <i>P. lunatus</i>. Results of all windowed '
    'analyses are plotted against window midpoints in millions of<br>'
    'base pairs (Mb). Black and gray colors highlight different common bean chromosomes according to '
    '<span style="color:#8c8c8c">Schmutz et al. (2014)</span>. Gray arrows on the vertical axes mark<br>'
    'genome-wide averages. Gray dashed horizontal lines indicate F<sub style="line-height:0">ST</sub> thresholds for the '
    'identification of outliers (from <b>Figure 2</b>). Vertical translucent boxes feature the<br>'
    '1 Mb flanking region of each outlier window midpoint for between- (red boxes) and within- (gray boxes) '
    'species comparisons.'
    '</div>'
)
caption = Div(text=CAPTION, width=W, height=270)

layout = column(p, caption)
open("out.html", "w").write(file_html(layout, INLINE))
